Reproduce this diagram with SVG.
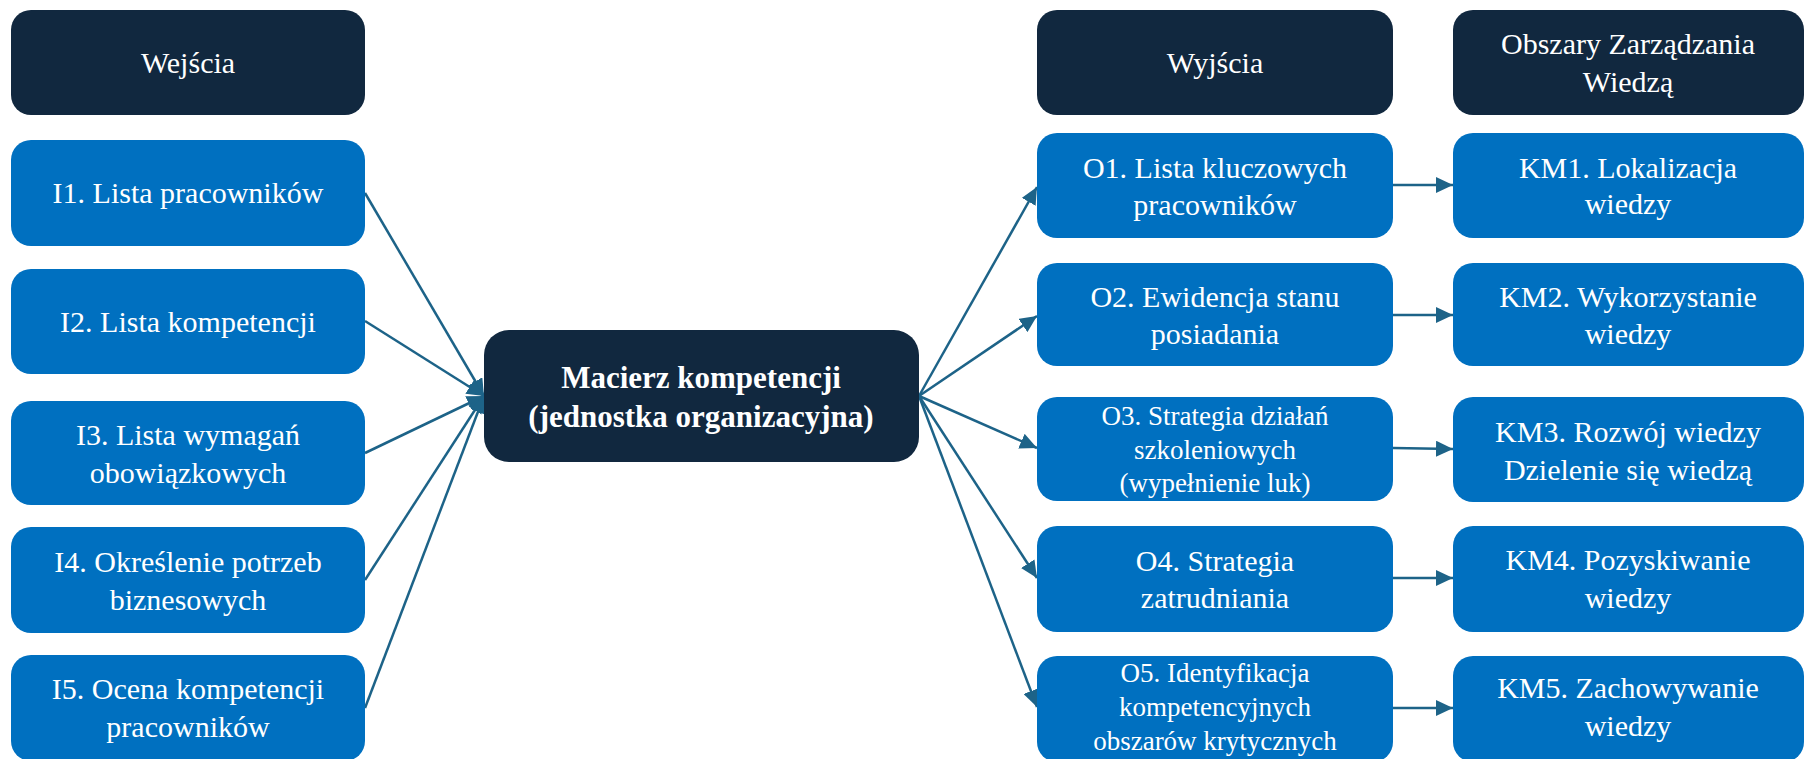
<svg xmlns="http://www.w3.org/2000/svg" width="1804" height="759" viewBox="0 0 1804 759">
  <defs>
    <marker id="arrow" markerUnits="userSpaceOnUse" markerWidth="18" markerHeight="16" refX="17" refY="8" orient="auto">
      <path d="M0,0 L17,8 L0,16 Z" fill="#1d6388"/>
    </marker>
    <style>
      .dark { fill: #11283f; }
      .blue { fill: #0070c0; }
      text { font-family: "Liberation Serif", "Times New Roman", serif; fill: #ffffff; text-anchor: middle; font-size: 30px; }
      .bold { font-weight: bold; font-size: 31px; }
      .small { font-size: 27px; }
      .conn line { stroke: #1d6388; stroke-width: 2.5; marker-end: url(#arrow); }
    </style>
  </defs>
  <rect width="1804" height="759" fill="#ffffff"/>

  <!-- connectors -->
  <g id="connectors" class="conn">
    <line x1="365" y1="193" x2="484" y2="396"/>
    <line x1="365" y1="321" x2="484" y2="396"/>
    <line x1="365" y1="453" x2="484" y2="396"/>
    <line x1="365" y1="580" x2="484" y2="396"/>
    <line x1="365" y1="708" x2="484" y2="396"/>
    <line x1="919" y1="396" x2="1037" y2="187"/>
    <line x1="919" y1="396" x2="1037" y2="316"/>
    <line x1="919" y1="396" x2="1037" y2="448"/>
    <line x1="919" y1="396" x2="1037" y2="578"/>
    <line x1="919" y1="396" x2="1037" y2="707"/>
    <line x1="1393" y1="185" x2="1453" y2="185"/>
    <line x1="1393" y1="315" x2="1453" y2="315"/>
    <line x1="1393" y1="448" x2="1453" y2="449"/>
    <line x1="1393" y1="578" x2="1453" y2="578"/>
    <line x1="1393" y1="708" x2="1453" y2="708"/>
  </g>

  <!-- input column -->
  <g id="hdr-inputs">
    <rect class="dark" x="11" y="10" width="354" height="105" rx="20"/>
    <text x="188" y="73">Wejścia</text>
  </g>
  <g id="i1">
    <rect class="blue" x="11" y="140" width="354" height="106" rx="20"/>
    <text x="188" y="203">I1. Lista pracowników</text>
  </g>
  <g id="i2">
    <rect class="blue" x="11" y="269" width="354" height="105" rx="20"/>
    <text x="188" y="332">I2. Lista kompetencji</text>
  </g>
  <g id="i3">
    <rect class="blue" x="11" y="401" width="354" height="104" rx="20"/>
    <text x="188" y="445">I3. Lista wymagań</text>
    <text x="188" y="483">obowiązkowych</text>
  </g>
  <g id="i4">
    <rect class="blue" x="11" y="527" width="354" height="106" rx="20"/>
    <text x="188" y="572">I4. Określenie potrzeb</text>
    <text x="188" y="610">biznesowych</text>
  </g>
  <g id="i5">
    <rect class="blue" x="11" y="655" width="354" height="106" rx="20"/>
    <text x="188" y="699">I5. Ocena kompetencji</text>
    <text x="188" y="737">pracowników</text>
  </g>

  <!-- central node -->
  <g id="matrix">
    <rect class="dark" x="484" y="330" width="435" height="132" rx="25"/>
    <text class="bold" x="701" y="388">Macierz kompetencji</text>
    <text class="bold" x="701" y="427">(jednostka organizacyjna)</text>
  </g>

  <!-- output column -->
  <g id="hdr-outputs">
    <rect class="dark" x="1037" y="10" width="356" height="105" rx="20"/>
    <text x="1215" y="73">Wyjścia</text>
  </g>
  <g id="o1">
    <rect class="blue" x="1037" y="133" width="356" height="105" rx="20"/>
    <text x="1215" y="178">O1. Lista kluczowych</text>
    <text x="1215" y="215">pracowników</text>
  </g>
  <g id="o2">
    <rect class="blue" x="1037" y="263" width="356" height="103" rx="20"/>
    <text x="1215" y="307">O2. Ewidencja stanu</text>
    <text x="1215" y="344">posiadania</text>
  </g>
  <g id="o3">
    <rect class="blue" x="1037" y="397" width="356" height="104" rx="20"/>
    <text class="small" x="1215" y="425">O3. Strategia działań</text>
    <text class="small" x="1215" y="459">szkoleniowych</text>
    <text class="small" x="1215" y="492">(wypełnienie luk)</text>
  </g>
  <g id="o4">
    <rect class="blue" x="1037" y="526" width="356" height="106" rx="20"/>
    <text x="1215" y="571">O4. Strategia</text>
    <text x="1215" y="608">zatrudniania</text>
  </g>
  <g id="o5">
    <rect class="blue" x="1037" y="656" width="356" height="106" rx="20"/>
    <text class="small" x="1215" y="682">O5. Identyfikacja</text>
    <text class="small" x="1215" y="716">kompetencyjnych</text>
    <text class="small" x="1215" y="750">obszarów krytycznych</text>
  </g>

  <!-- knowledge management column -->
  <g id="hdr-km">
    <rect class="dark" x="1453" y="10" width="351" height="105" rx="20"/>
    <text x="1628" y="54">Obszary Zarządzania</text>
    <text x="1628" y="92">Wiedzą</text>
  </g>
  <g id="km1">
    <rect class="blue" x="1453" y="133" width="351" height="105" rx="20"/>
    <text x="1628" y="178">KM1. Lokalizacja</text>
    <text x="1628" y="214">wiedzy</text>
  </g>
  <g id="km2">
    <rect class="blue" x="1453" y="263" width="351" height="103" rx="20"/>
    <text x="1628" y="307">KM2. Wykorzystanie</text>
    <text x="1628" y="344">wiedzy</text>
  </g>
  <g id="km3">
    <rect class="blue" x="1453" y="397" width="351" height="105" rx="20"/>
    <text x="1628" y="442">KM3. Rozwój wiedzy</text>
    <text x="1628" y="480">Dzielenie się wiedzą</text>
  </g>
  <g id="km4">
    <rect class="blue" x="1453" y="526" width="351" height="106" rx="20"/>
    <text x="1628" y="570">KM4. Pozyskiwanie</text>
    <text x="1628" y="608">wiedzy</text>
  </g>
  <g id="km5">
    <rect class="blue" x="1453" y="656" width="351" height="106" rx="20"/>
    <text x="1628" y="698">KM5. Zachowywanie</text>
    <text x="1628" y="736">wiedzy</text>
  </g>
</svg>
